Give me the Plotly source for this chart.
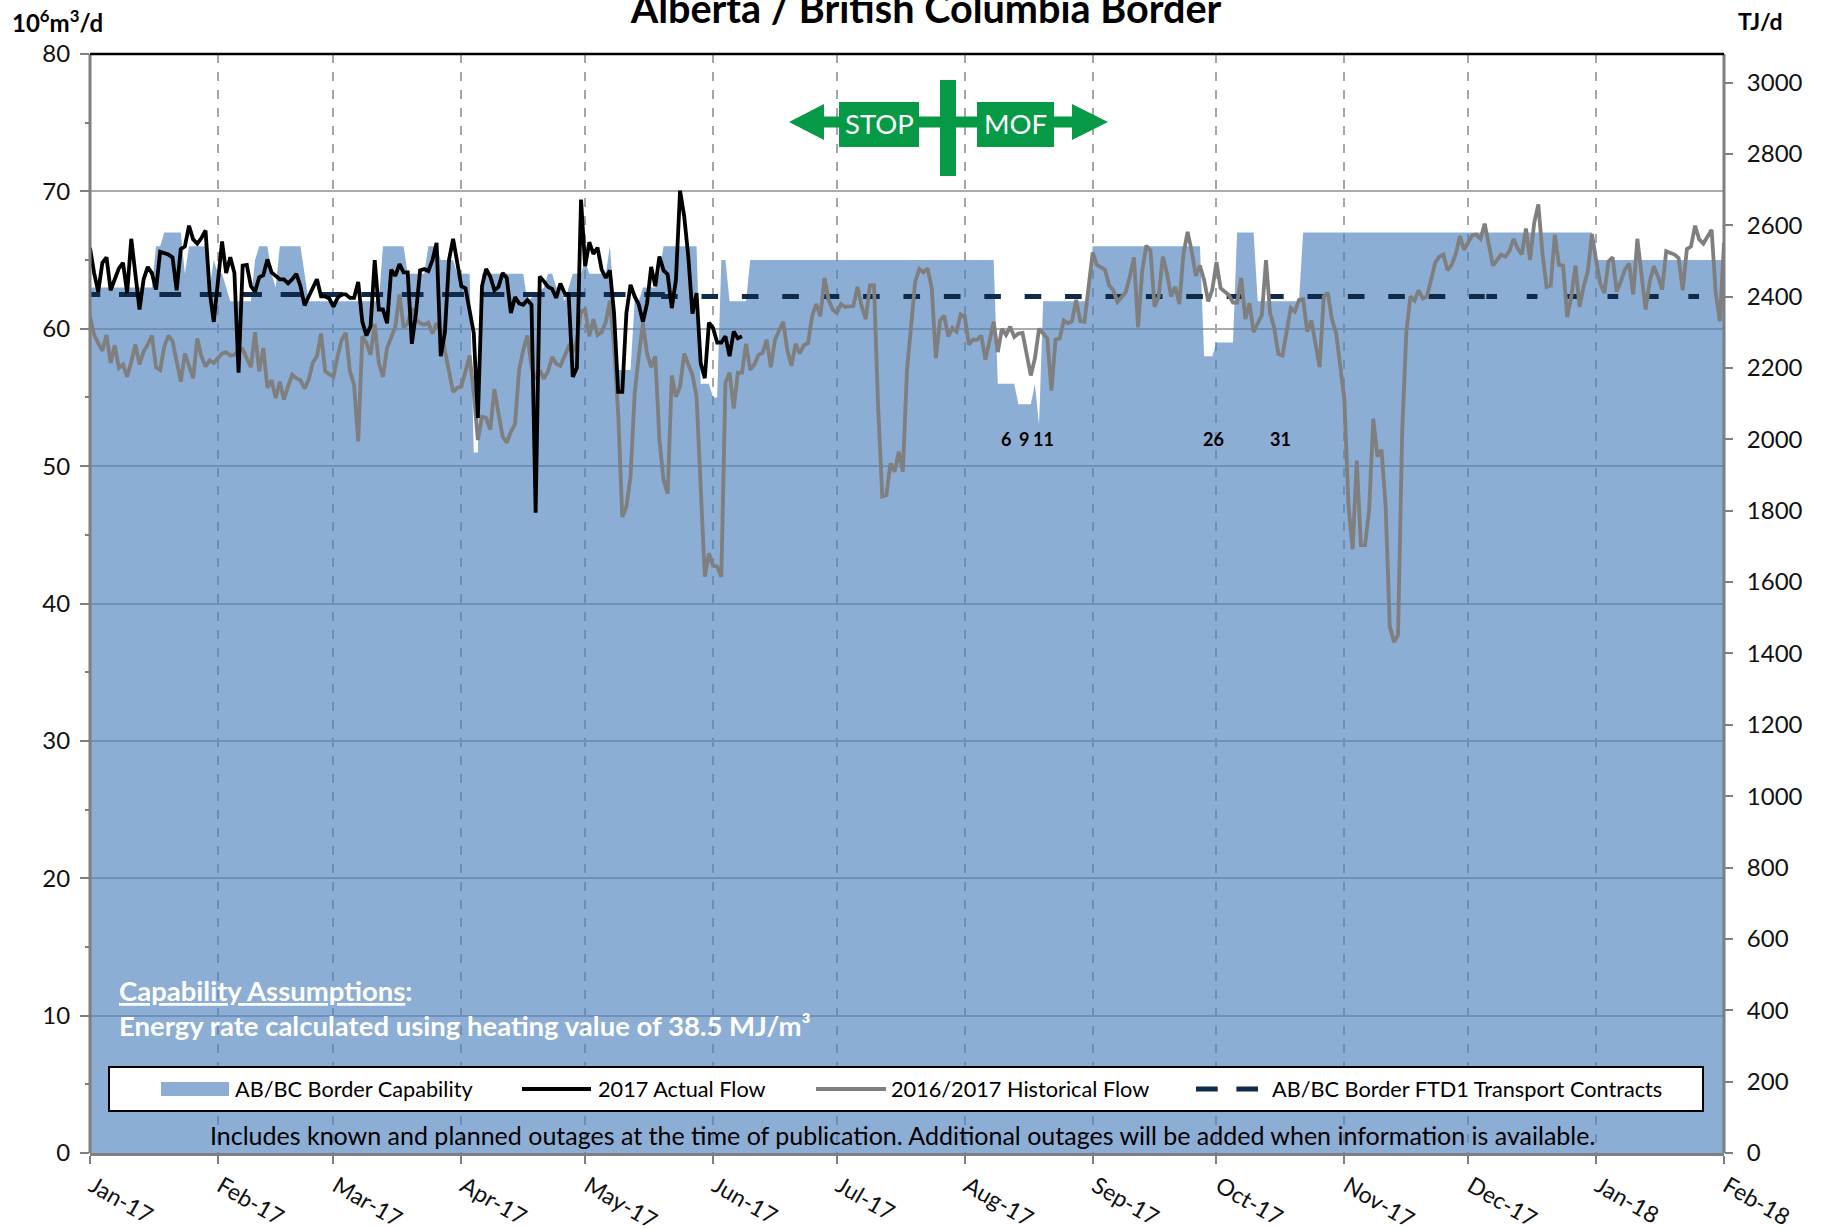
import pandas as pd
import plotly.graph_objects as go

START = "2017-01-01"
MONTH_FORMAT = "%b-%y"
TITLE = "Alberta / British Columbia Border"
SERIES_NAMES = ["AB/BC Border Capability", "2017 Actual Flow", "2016/2017 Historical Flow",
                "AB/BC Border FTD1 Transport Contracts"]

actual_flow = [
    65.9, 64.05, 62.7, 64.8, 65.2, 62.8, 63.6, 64.4, 64.8, 62.6,
    66.55, 64.05, 61.4, 63.6, 64.5, 64.05, 62.85, 65.6, 65.5, 65.4,
    65.2, 62.8, 65.8, 66.0, 67.5, 66.5, 66.2, 66.6, 67.15, 62.7,
    60.5, 63.6, 66.35, 64.05, 65.2, 64.05, 56.8, 64.6, 64.65, 63.1,
    62.7, 63.75, 63.9, 65.05, 64.1, 63.85, 63.6, 63.6, 63.3, 63.6,
    64.0, 63.1, 61.7, 62.35, 62.95, 63.6, 62.35, 62.35, 62.2, 61.6,
    62.25, 62.5, 62.5, 62.25, 62.25, 63.4, 60.5, 59.5, 60.2, 65.0,
    61.4, 61.4, 60.4, 64.3, 63.85, 64.7, 64.1, 64.1, 58.9, 61.15,
    64.25, 64.35, 64.2, 65.0, 66.25, 58.0, 59.7, 65.0, 66.55, 64.8,
    63.1, 62.95, 61.4, 59.7, 53.5, 63.1, 64.35, 63.8, 62.8, 63.05,
    64.05, 63.7, 61.15, 62.3, 61.85, 61.75, 62.1, 61.75, 46.6, 63.8,
    63.45, 63.05, 62.9, 62.25, 63.3, 62.6, 62.5, 56.5, 57.15, 69.4,
    64.55, 66.3, 65.45, 65.9, 64.3, 63.7, 64.25, 61.15, 55.4, 55.4,
    61.15, 63.2, 62.35, 61.75, 60.5, 61.85, 64.5, 63.1, 65.25, 64.25,
    63.95, 61.5, 63.55, 70.05, 68.2, 65.25, 61.1, 62.6, 57.5, 56.4,
    60.45, 60.05, 59.0, 59.0, 59.45, 58.0, 59.8, 59.3, 59.45,
]

historical_flow = [
    60.9, 59.55, 58.95, 58.4, 59.55, 57.5, 58.8, 57.15, 57.4, 56.5,
    57.6, 58.85, 57.4, 58.35, 58.85, 59.5, 57.2, 57.0, 58.7, 59.5,
    59.1, 57.6, 56.15, 58.2, 57.25, 56.4, 59.3, 58.0, 57.25, 57.7,
    57.5, 57.85, 58.2, 58.3, 58.05, 58.1, 58.4, 58.5, 57.85, 57.2,
    59.75, 56.9, 58.6, 55.7, 56.25, 54.95, 56.15, 54.85, 55.8, 56.65,
    56.4, 56.25, 55.65, 56.3, 57.55, 58.0, 59.65, 56.9, 56.7, 56.5,
    58.0, 59.2, 59.7, 56.9, 55.9, 51.8, 59.45, 58.95, 58.1, 60.35,
    57.5, 56.5, 58.6, 59.3, 60.15, 62.5, 60.1, 60.4, 61.5, 60.65,
    60.4, 60.3, 60.45, 59.65, 60.4, 59.95, 58.35, 56.75, 55.4, 55.7,
    55.8, 56.9, 58.05, 55.3, 51.9, 53.6, 53.5, 52.65, 55.6, 53.85,
    52.15, 51.7, 52.5, 53.05, 57.0, 58.45, 59.5, 57.25, 56.3, 57.0,
    56.35, 56.9, 57.95, 57.45, 57.3, 58.0, 58.7, 58.3, 59.2, 61.25,
    61.4, 59.45, 60.7, 59.55, 59.75, 60.5, 62.05, 58.7, 53.85, 46.3,
    47.05, 49.25, 55.3, 58.0, 60.4, 58.2, 57.2, 58.0, 51.9, 49.0,
    48.0, 56.6, 55.05, 55.8, 58.2, 57.4, 56.65, 55.05, 49.0, 41.95,
    43.65, 42.75, 42.7, 41.95, 56.05, 56.8, 54.2, 56.8, 56.8, 58.9,
    57.0, 57.4, 58.1, 58.25, 59.2, 57.2, 59.2, 59.9, 60.5, 58.45,
    57.3, 58.9, 58.2, 58.8, 58.95, 60.9, 61.8, 60.9, 63.7, 62.1,
    61.4, 61.15, 61.8, 61.6, 61.6, 61.65, 63.05, 61.65, 60.7, 63.15,
    63.15, 54.35, 47.8, 47.9, 50.2, 49.6, 51.05, 49.6, 57.0, 60.65,
    63.45, 64.35, 64.1, 64.4, 62.95, 57.85, 60.6, 60.95, 59.45, 60.05,
    59.8, 61.05, 60.9, 58.85, 59.2, 59.2, 59.5, 57.75, 59.2, 60.5,
    58.3, 60.0, 59.55, 60.15, 59.4, 59.65, 59.7, 58.25, 56.6, 57.85,
    60.0, 59.65, 59.3, 55.5, 59.2, 59.3, 60.6, 60.4, 60.55, 62.1,
    60.55, 60.5, 63.1, 65.55, 64.65, 64.5, 64.3, 63.15, 62.8, 61.95,
    62.35, 62.65, 63.8, 65.2, 60.1, 64.2, 66.05, 65.7, 61.6, 62.35,
    65.25, 64.05, 62.35, 63.05, 61.8, 65.45, 67.05, 65.65, 63.85, 64.6,
    63.55, 62.0, 62.85, 64.85, 62.95, 62.7, 62.45, 61.9, 61.9, 63.7,
    60.7, 61.85, 59.75, 60.4, 61.0, 65.0, 61.15, 60.05, 58.15, 58.05,
    59.7, 61.5, 61.25, 62.1, 62.15, 59.8, 60.6, 58.85, 57.2, 62.35,
    62.6, 60.65, 59.7, 57.25, 54.85, 47.1, 43.95, 50.4, 44.25, 44.25,
    46.8, 53.45, 50.7, 51.2, 47.05, 38.35, 37.2, 37.7, 52.4, 59.7,
    62.35, 62.05, 62.8, 62.2, 62.35, 63.55, 64.8, 65.25, 65.4, 64.25,
    64.65, 65.45, 66.75, 65.75, 66.25, 66.8, 66.85, 66.55, 67.65, 66.1,
    64.6, 65.0, 65.4, 65.25, 65.65, 66.55, 65.85, 65.4, 67.3, 65.0,
    67.7, 69.05, 65.5, 63.05, 63.15, 66.85, 64.65, 64.6, 60.85, 62.35,
    64.6, 61.6, 63.1, 64.2, 66.9, 65.0, 63.3, 62.6, 64.9, 65.2,
    62.7, 63.45, 64.3, 64.75, 62.5, 66.55, 64.05, 61.4, 63.45, 64.55,
    63.8, 62.85, 65.65, 65.5, 65.4, 65.15, 62.8, 65.8, 66.0, 67.5,
    66.5, 66.2, 66.7, 67.2, 62.6, 60.55, 66.25,
]

capability_days = [
    0, 15, 16, 17, 18, 22, 23, 24, 28, 29,
    30, 31, 32, 34, 39, 40, 41, 43, 44, 45,
    46, 51, 52, 53, 70, 71, 76, 77, 81, 82,
    84, 85, 88, 89, 92, 93, 94, 95, 105, 106,
    110, 111, 112, 113, 114, 115, 116, 117, 119, 120,
    121, 125, 126, 127, 128, 131, 132, 133, 134, 137,
    138, 139, 147, 148, 150, 151, 152, 153, 154, 155,
    159, 160, 219, 220, 224, 225, 228, 229, 230, 231,
    242, 243, 269, 270, 272, 273, 277, 278, 282, 283,
    293, 294, 364, 365, 396,
]
capability_values = [
    63, 63, 66, 66, 67, 67, 64, 66, 66, 63,
    65, 64, 64, 62, 62, 65, 66, 66, 64, 63,
    66, 66, 64, 62, 62, 66, 66, 64, 64, 66,
    66, 65, 65, 64, 64, 51, 51, 64, 64, 62,
    63, 64, 64, 63, 63, 62, 63, 64, 64, 65,
    64, 64, 66, 62, 57, 57, 62, 62, 63, 63,
    64, 66, 66, 56, 56, 55, 55, 65, 65, 62,
    62, 65, 65, 56, 56, 54.5, 54.5, 56, 53, 62,
    62, 66, 66, 58, 58, 59, 59, 67, 67, 62,
    62, 67, 67, 65, 65,
]

ftd_a_days, ftd_a_values = [-2.76, 139.3], [62.5, 62.5]
ftd_b_days, ftd_b_values = [138.4, 338.0], [62.35, 62.35]
ftd_c_days, ftd_c_values = [338.4, 396.0], [62.35, 62.35]

outage_labels = ["6", "9", "11", "26", "31"]
outage_days = [222.0, 226.4, 231.2, 272.3, 288.5]
outage_level = [52.0, 52.0, 52.0, 52.0, 52.0]

HEATING_VALUE = 38.5

FONT = "Lato, Carlito, Calibri, sans-serif"
L, R, T, B = 90, 1724, 54, 1153
GREEN = "#069A46"
FILL = "rgba(79,129,189,0.65)"
AXIS = "#7F7F7F"


def px(x):
    return (x - L) / (R - L)


def py(y):
    return (B - y) / (B - T)


def dates(days):
    return pd.Timestamp(START) + pd.to_timedelta(days, unit="D")


fig = go.Figure()

fig.add_trace(go.Scatter(x=dates(capability_days), y=capability_values, name=SERIES_NAMES[0],
                         mode="lines", line=dict(width=0), fill="tozeroy", fillcolor=FILL,
                         showlegend=False))
fig.add_trace(go.Scatter(x=dates(capability_days), y=[v * HEATING_VALUE for v in capability_values],
                         yaxis="y2", mode="lines", line=dict(width=0), opacity=0,
                         showlegend=False, hoverinfo="skip", name="Capability TJ/d"))
for d, v, dash in [(ftd_a_days, ftd_a_values, "21.7px,18.7px"),
                   (ftd_b_days, ftd_b_values, "16.6px,23.8px"),
                   (ftd_c_days, ftd_c_values, "10.7px,29.7px")]:
    fig.add_trace(go.Scatter(x=dates(d), y=v, name=SERIES_NAMES[3], mode="lines",
                             line=dict(color="#0F2A4A", width=5, dash=dash), showlegend=False))
fig.add_trace(go.Scatter(x=dates(list(range(len(historical_flow)))), y=historical_flow,
                         name=SERIES_NAMES[2], mode="lines",
                         line=dict(color="#7F7F7F", width=3.8), showlegend=False))
fig.add_trace(go.Scatter(x=dates(list(range(len(actual_flow)))), y=actual_flow,
                         name=SERIES_NAMES[1], mode="lines",
                         line=dict(color="#000000", width=3.8), showlegend=False))

shapes = []
annotations = []


def rect(x0, y0, x1, y1, fill, line=None, lw=0):
    shapes.append(dict(type="rect", xref="paper", yref="paper", x0=px(x0), x1=px(x1),
                       y0=py(y0), y1=py(y1), fillcolor=fill, layer="above",
                       line=dict(color=line or fill, width=lw)))


def hline(x0, x1, y, color, w, dash="solid"):
    shapes.append(dict(type="line", xref="paper", yref="paper", x0=px(x0), x1=px(x1),
                       y0=py(y), y1=py(y), layer="above", line=dict(color=color, width=w, dash=dash)))


def vline(x, y0, y1, color, w):
    shapes.append(dict(type="line", xref="paper", yref="paper", x0=px(x), x1=px(x),
                       y0=py(y0), y1=py(y1), layer="above", line=dict(color=color, width=w)))


def text(x, y, s, size, color="#000000", anchor="left", bold=False):
    annotations.append(dict(xref="paper", yref="paper", x=px(x), y=py(y), text=f"<b>{s}</b>" if bold else s,
                            showarrow=False, xanchor=anchor, yanchor="middle",
                            font=dict(family=FONT, size=size, color=color)))


vline(L, T, B, AXIS, 3)
vline(R, T, B, AXIS, 3)
hline(L, R, T, "#000000", 2.5)

# STOP / MOF marker
hline(824, 1072, 122, GREEN, 11)
rect(940, 80, 956, 176, GREEN)
rect(839, 102, 919, 147, GREEN)
rect(977, 102, 1054, 147, GREEN)
for pts in (((789, 122), (824, 104), (824, 140)), ((1108, 122), (1072, 104), (1072, 140))):
    path = "M " + " L ".join(f"{px(a)},{py(b)}" for a, b in pts) + " Z"
    shapes.append(dict(type="path", xref="paper", yref="paper", path=path, fillcolor=GREEN,
                       line=dict(width=0), layer="above"))
text(879, 124, "STOP", 27.5, "#FFFFFF", "center")
text(1015, 124, "MOF", 27.5, "#FFFFFF", "center")

# legend box
rect(109, 1067, 1703, 1111, "#FFFFFF", "#000000", 2)
rect(161, 1082, 229, 1096, "#8DADD4")
hline(522, 591, 1089, "#000000", 3.8)
hline(816, 886, 1089, "#7F7F7F", 3.8)
hline(1196, 1258, 1089, "#0F2A4A", 5, "21.7px,18.7px")
text(233, 1089, SERIES_NAMES[0], 21.7)
text(596, 1089, SERIES_NAMES[1], 21.7)
text(889, 1089, SERIES_NAMES[2], 21.7)
text(1270, 1089, SERIES_NAMES[3], 21.7)

text(208, 1135, "Includes known and planned outages at the time of publication. "
                "Additional outages will be added when information is available.", 25)
text(117, 990, "<u>Capability Assumptions</u>:", 27.5, "#FFFFFF", bold=True)
text(117, 1025, "Energy rate calculated using heating value of 38.5 MJ/m³", 27.5, "#FFFFFF", bold=True)

text(10, 21, "10<sup>6</sup>m<sup>3</sup>/d", 24, bold=True)
text(1736, 21, "TJ/d", 23, bold=True)

for lab, d, v in zip(outage_labels, outage_days, outage_level):
    annotations.append(dict(x=dates(d), y=v, xref="x", yref="y", text=f"<b>{lab}</b>", showarrow=False,
                            font=dict(family=FONT, size=18, color="#000000")))

fig.update_layout(
    width=1824, height=1228, autosize=False,
    margin=dict(l=L, r=1824 - R, t=T, b=1228 - B, autoexpand=False),
    paper_bgcolor="white", plot_bgcolor="white",
    font=dict(family=FONT, size=24, color="#111111"),
    title=dict(text=f"<b>{TITLE}</b>", x=926 / 1824, xanchor="center", y=1 - 9 / 1228, yanchor="middle",
               font=dict(family=FONT, size=39.6, color="#000000"), automargin=False),
    shapes=shapes, annotations=annotations, showlegend=False,
    xaxis=dict(type="date", range=[START, "2018-02-01"], dtick="M1", tick0=START, tickformat=MONTH_FORMAT,
               tickangle=30, ticks="outside", ticklen=8, tickwidth=2, tickcolor=AXIS,
               tickfont=dict(size=23), automargin=False, ticklabelshift=3,
               showline=True, linecolor=AXIS, linewidth=3,
               showgrid=True, gridcolor="#A6A6A6", griddash="dash", gridwidth=1.5, zeroline=False),
    yaxis=dict(range=[0, 80], dtick=10, ticks="outside", ticklen=9, tickwidth=2, tickcolor=AXIS,
               automargin=False, ticklabelstandoff=5, showline=False,
               showgrid=True, gridcolor="#ABABAB", gridwidth=2, zeroline=False,
               minor=dict(dtick=5, ticks="outside", ticklen=4, tickwidth=1.5, tickcolor=AXIS, showgrid=False)),
    yaxis2=dict(range=[0, 80 * HEATING_VALUE], overlaying="y", side="right", dtick=200, tick0=0,
                ticks="outside", ticklen=8, tickwidth=2, tickcolor=AXIS, automargin=False,
                ticklabelstandoff=9, showline=False, showgrid=False, zeroline=False,
                tickformat="d"),
)

fig.write_html("out.html", config=dict(displayModeBar=False), post_script="document.body.style.margin='0';")
